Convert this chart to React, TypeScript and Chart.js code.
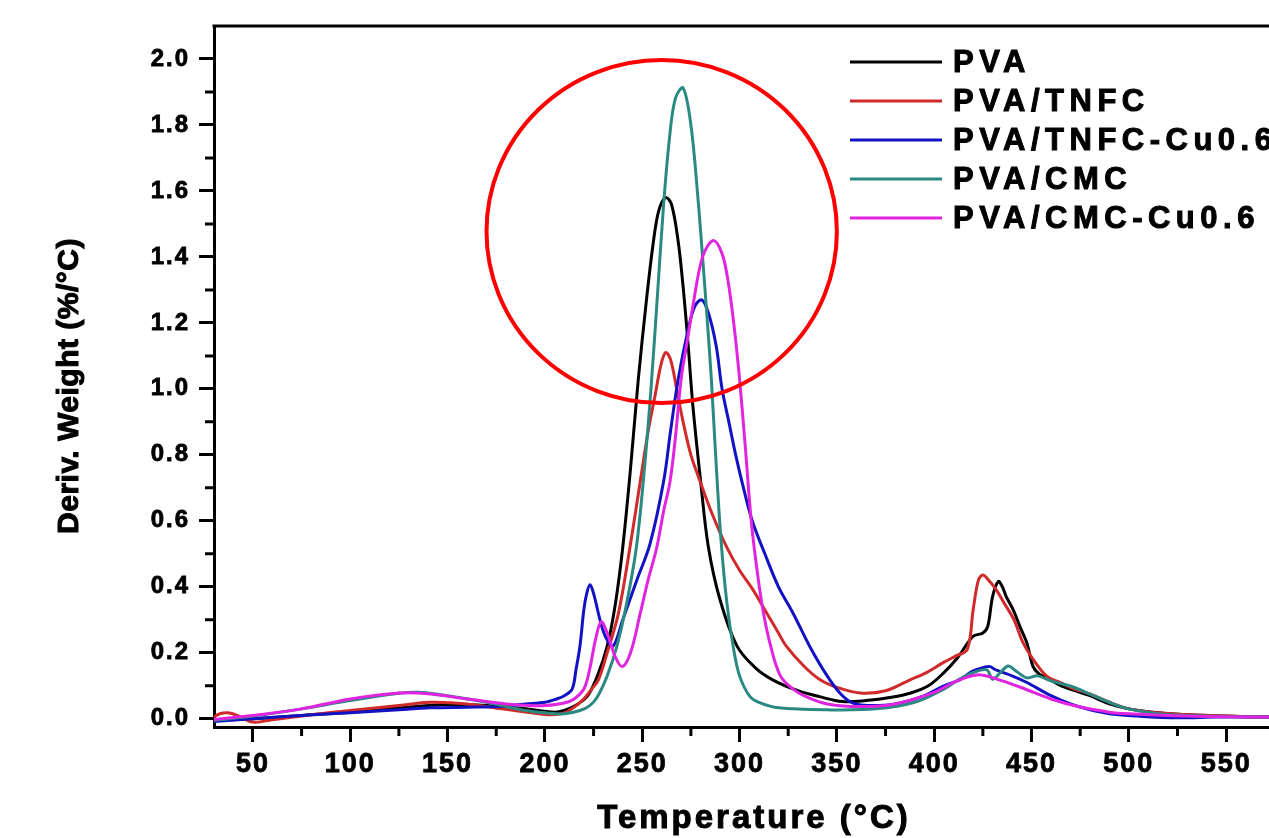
import React, { useEffect, useRef } from "react";
import { Chart, registerables } from "chart.js";

Chart.register(...registerables);

const SERIES_LABELS = ["PVA", "PVA/TNFC", "PVA/TNFC-Cu0.6", "PVA/CMC", "PVA/CMC-Cu0.6"];
const SERIES_COLORS = ["#000000", "#d02a2a", "#1212c4", "#2a8a82", "#e024e0"];

// PVA (black)
const PVA_T = [30, 40, 50, 75, 100, 125, 150, 170, 190, 205, 212, 217, 222, 227, 232, 236, 240, 244, 248, 252, 255.6, 258.5, 262, 265, 268.4, 271, 273.5, 276, 280, 284, 290, 298.7, 308, 317, 330, 341, 353, 365, 378, 388, 397, 405, 412, 420, 425, 427.5, 430, 432.9, 435, 437, 440.6, 444, 447.6, 450.8, 454, 458, 465, 471, 480, 490, 500, 515, 530, 550, 572];
const PVA_Y = [-0.005, -0.003, 0.0, 0.01, 0.02, 0.033, 0.043, 0.04, 0.03, 0.02, 0.03, 0.045, 0.07, 0.13, 0.22, 0.34, 0.52, 0.76, 1.03, 1.26, 1.44, 1.54, 1.58, 1.56, 1.45, 1.31, 1.14, 0.95, 0.72, 0.52, 0.36, 0.22, 0.155, 0.118, 0.085, 0.067, 0.052, 0.055, 0.065, 0.078, 0.1, 0.14, 0.185, 0.25, 0.26, 0.28, 0.37, 0.416, 0.4, 0.37, 0.33, 0.28, 0.23, 0.158, 0.135, 0.124, 0.1, 0.088, 0.07, 0.045, 0.03, 0.018, 0.012, 0.008, 0.005];

// PVA/TNFC (red)
const TNFC_T = [30, 33, 37, 42, 50, 60, 80, 100, 125, 141, 160, 178, 193, 203, 210, 215, 220, 224, 227.5, 232, 237.8, 243.7, 249, 253, 256.6, 259.5, 262, 264.5, 268, 271, 275, 279.7, 286, 293.4, 300, 307, 314, 320, 324, 333, 341.4, 350, 362, 375, 387.6, 396, 404.6, 411, 417, 420, 422.7, 425, 428, 432, 436, 441, 445.7, 452, 458, 464.7, 472, 480, 490, 500, 515, 530, 550, 572];
const TNFC_Y = [0.005, 0.015, 0.018, 0.01, -0.01, -0.003, 0.012, 0.025, 0.04, 0.05, 0.045, 0.03, 0.018, 0.012, 0.018, 0.035, 0.06, 0.09, 0.118, 0.2, 0.32, 0.52, 0.72, 0.87, 0.98, 1.07, 1.11, 1.09, 0.99, 0.9, 0.8, 0.72, 0.62, 0.52, 0.45, 0.39, 0.32, 0.26, 0.22, 0.16, 0.118, 0.095, 0.078, 0.085, 0.118, 0.14, 0.17, 0.19, 0.21, 0.33, 0.42, 0.436, 0.42, 0.39, 0.35, 0.3, 0.23, 0.17, 0.128, 0.11, 0.09, 0.075, 0.05, 0.03, 0.018, 0.012, 0.008, 0.005];

// PVA/TNFC-Cu0.6 (blue)
const TNFCCU_T = [30, 50, 75, 100, 125, 141, 160, 176, 190, 200, 206, 210, 214, 216, 218, 220, 221.5, 223.2, 225, 228.3, 231, 235, 240, 247.2, 254, 261, 264.5, 268.5, 273.6, 277, 280.6, 284, 288, 291, 294.5, 298, 302, 306.5, 313, 320, 327.5, 336, 345, 352, 358, 366, 380, 395, 405, 413, 420, 425, 428.7, 431, 433, 440, 447.6, 460, 474, 490, 505, 525, 545, 572];
const TNFCCU_Y = [-0.008, 0.0, 0.01, 0.018, 0.027, 0.033, 0.035, 0.037, 0.045, 0.05, 0.06, 0.07, 0.09, 0.15, 0.22, 0.33, 0.38, 0.406, 0.38, 0.3, 0.25, 0.22, 0.3, 0.42, 0.53, 0.72, 0.87, 1.03, 1.18, 1.25, 1.27, 1.23, 1.13, 1.0, 0.9, 0.8, 0.7, 0.6, 0.5, 0.4, 0.32, 0.22, 0.13, 0.075, 0.048, 0.04, 0.045, 0.07, 0.1, 0.118, 0.145, 0.155, 0.158, 0.15, 0.145, 0.13, 0.11, 0.07, 0.037, 0.015, 0.008, 0.003, 0.005, 0.005];

// PVA/CMC (teal)
const CMC_T = [30, 50, 75, 100, 125, 135, 150, 170, 190, 200, 210, 218, 223, 227, 232, 237, 242, 247, 251, 254.5, 258, 261, 264, 267, 271, 275, 278.6, 281, 283.5, 285.5, 288, 290.5, 293.5, 296.7, 300, 305.4, 310.6, 320, 345, 370, 390, 405, 413, 420, 427, 430, 434, 438, 442, 447.6, 453, 460, 471, 480, 490, 500, 515, 530, 550, 572];
const CMC_Y = [-0.005, 0.008, 0.03, 0.055, 0.077, 0.08, 0.07, 0.05, 0.025, 0.018, 0.015, 0.025, 0.04, 0.067, 0.13, 0.22, 0.35, 0.52, 0.75, 1.0, 1.3, 1.56, 1.76, 1.88, 1.912, 1.8, 1.58, 1.4, 1.2, 1.03, 0.77, 0.54, 0.35, 0.22, 0.13, 0.067, 0.048, 0.033, 0.027, 0.03, 0.05, 0.09, 0.12, 0.14, 0.148, 0.12, 0.14, 0.16, 0.145, 0.124, 0.13, 0.115, 0.097, 0.075, 0.05, 0.03, 0.015, 0.01, 0.007, 0.005];

// PVA/CMC-Cu0.6 (magenta)
const CMCCU_T = [30, 40, 50, 75, 100, 125, 140, 160, 180, 192, 200, 210, 215, 220, 223, 226, 228.9, 232, 236, 239.7, 244, 249, 253, 257.5, 261, 264.3, 267, 270, 273, 276, 281, 286.5, 291, 294, 297, 300, 303, 306, 309, 312, 316, 321, 327.5, 335, 345, 362, 380, 400, 410, 422, 435, 447.6, 460, 474, 490, 500, 530, 572];
const CMCCU_Y = [-0.002, 0.004, 0.01, 0.03, 0.06, 0.078, 0.076, 0.06, 0.045, 0.04, 0.04, 0.048, 0.06, 0.09, 0.15, 0.24, 0.294, 0.26, 0.19, 0.158, 0.2, 0.32, 0.42, 0.52, 0.63, 0.72, 0.85, 1.03, 1.14, 1.25, 1.4, 1.45, 1.41, 1.33, 1.2, 1.03, 0.82, 0.6, 0.45, 0.33, 0.22, 0.13, 0.09, 0.065, 0.045, 0.037, 0.045, 0.08, 0.11, 0.133, 0.115, 0.088, 0.06, 0.037, 0.02, 0.015, 0.008, 0.005];

const SERIES_T = [PVA_T, TNFC_T, TNFCCU_T, CMC_T, CMCCU_T];
const SERIES_Y = [PVA_Y, TNFC_Y, TNFCCU_Y, CMC_Y, CMCCU_Y];

const X_TICKS = [50, 100, 150, 200, 250, 300, 350, 400, 450, 500, 550];
const X_MINOR = [75, 125, 175, 225, 275, 325, 375, 425, 475, 525];
const Y_TICKS = [0, 0.2, 0.4, 0.6, 0.8, 1.0, 1.2, 1.4, 1.6, 1.8, 2.0];
const Y_MINOR = [0.1, 0.3, 0.5, 0.7, 0.9, 1.1, 1.3, 1.5, 1.7, 1.9];
const X_RANGE = [30, 572];
const Y_RANGE = [-0.025, 2.1];

const X_TITLE = "Temperature (°C)";
const Y_TITLE = "Deriv. Weight (%/°C)";

// highlight circle, in data units (centre temperature, centre value, half-width in °C, half-height in value)
const HIGHLIGHT = [260, 1.477, 90, 0.52];

const FONT = "'Liberation Sans', Arial, Helvetica, sans-serif";

const decorPlugin = {
  id: "decor",
  beforeDraw(chart: any) {
    chart.ctx.letterSpacing = "2px";
  },
  afterDatasetsDraw(chart: any) {
    const { ctx, scales } = chart;
    const xs = scales.x;
    const ys = scales.y;
    const cx = xs.getPixelForValue(HIGHLIGHT[0]);
    const cy = ys.getPixelForValue(HIGHLIGHT[1]);
    const rx = Math.abs(xs.getPixelForValue(HIGHLIGHT[0] + HIGHLIGHT[2]) - cx);
    const ry = Math.abs(ys.getPixelForValue(HIGHLIGHT[1] + HIGHLIGHT[3]) - cy);
    ctx.save();
    ctx.strokeStyle = "#ff0000";
    ctx.lineWidth = 4;
    ctx.beginPath();
    ctx.ellipse(cx, cy, rx, ry, 0, 0, Math.PI * 2);
    ctx.stroke();
    ctx.restore();
  },
  afterDraw(chart: any) {
    const { ctx, chartArea: a, scales } = chart;
    const xs = scales.x;
    const ys = scales.y;
    ctx.save();
    ctx.letterSpacing = "0px";
    ctx.strokeStyle = "#000";
    ctx.lineWidth = 3;
    // top frame line
    ctx.beginPath();
    ctx.moveTo(a.left - 1.5, a.top);
    ctx.lineTo(a.right, a.top);
    ctx.stroke();
    // minor ticks
    ctx.beginPath();
    Y_MINOR.forEach((v) => {
      const py = ys.getPixelForValue(v);
      ctx.moveTo(a.left - 9, py);
      ctx.lineTo(a.left, py);
    });
    X_MINOR.forEach((v) => {
      const px = xs.getPixelForValue(v);
      ctx.moveTo(px, a.bottom);
      ctx.lineTo(px, a.bottom + 9);
    });
    ctx.stroke();

    const heavyText = (t: string, x: number, y: number) => {
      ctx.fillText(t, x, y);
      ctx.strokeText(t, x, y);
    };

    // axis titles
    ctx.fillStyle = "#000";
    ctx.strokeStyle = "#000";
    ctx.lineWidth = 1;
    ctx.font = `bold 33px ${FONT}`;
    ctx.letterSpacing = "3px";
    ctx.textAlign = "center";
    ctx.textBaseline = "middle";
    heavyText(X_TITLE, a.left + 540, a.bottom + 92);

    ctx.save();
    ctx.letterSpacing = "0.5px";
    ctx.font = `bold 30px ${FONT}`;
    ctx.translate(a.left - 144, a.top + 360);
    ctx.rotate(-Math.PI / 2);
    heavyText(Y_TITLE, 0, 0);
    ctx.restore();

    // legend
    ctx.font = `bold 31px ${FONT}`;
    ctx.letterSpacing = "5.5px";
    ctx.textAlign = "left";
    chart.data.datasets.forEach((ds: any, i: number) => {
      const ly = a.top + 36 + i * 39;
      ctx.strokeStyle = ds.borderColor;
      ctx.lineWidth = 3;
      ctx.beginPath();
      ctx.moveTo(a.left + 636, ly);
      ctx.lineTo(a.left + 728, ly);
      ctx.stroke();
      ctx.fillStyle = "#000";
      ctx.strokeStyle = "#000";
      ctx.lineWidth = 1;
      heavyText(ds.label, a.left + 739, ly + 1);
    });
    ctx.restore();
  },
};

export default function App() {
  const canvasRef = useRef<HTMLCanvasElement | null>(null);

  useEffect(() => {
    document.body.style.margin = "0";
    document.body.style.overflow = "hidden";
    const canvas = canvasRef.current;
    if (!canvas) return;

    const datasets = SERIES_LABELS.map((label, i) => ({
      label,
      data: SERIES_T[i].map((t, j) => ({ x: t, y: SERIES_Y[i][j] })),
      borderColor: SERIES_COLORS[i],
      backgroundColor: SERIES_COLORS[i],
      borderWidth: 3,
      pointRadius: 0,
      pointHoverRadius: 0,
      fill: false,
      tension: 0.35,
      borderJoinStyle: "round" as const,
      borderCapStyle: "round" as const,
      order: SERIES_LABELS.length - 1 - i,
    }));

    const tickCommon = {
      display: true,
      drawOnChartArea: false,
      drawTicks: true,
      tickLength: 15,
      tickWidth: 3,
      lineWidth: 3,
      tickColor: "#000",
      color: "#000",
    };

    const chart = new Chart(canvas, {
      type: "line",
      data: { datasets },
      plugins: [decorPlugin],
      options: {
        animation: false,
        responsive: false,
        devicePixelRatio: 1,
        layout: { padding: { top: 26, left: 0, right: 0, bottom: 0 } },
        plugins: {
          legend: { display: false },
          tooltip: { enabled: false },
          title: { display: false },
        },
        scales: {
          x: {
            type: "linear",
            min: X_RANGE[0],
            max: X_RANGE[1],
            afterBuildTicks: (s: any) => {
              s.ticks = X_TICKS.map((v) => ({ value: v }));
            },
            afterFit: (s: any) => {
              s.height = 111;
            },
            ticks: {
              autoSkip: false,
              maxRotation: 0,
              padding: 6,
              color: "#000",
              textStrokeColor: "#000",
              textStrokeWidth: 0.8,
              font: { family: FONT, size: 27, weight: "bold" },
              callback: (v: any) => String(v),
            },
            grid: tickCommon,
            border: { display: true, color: "#000", width: 3 },
          },
          y: {
            type: "linear",
            min: Y_RANGE[0],
            max: Y_RANGE[1],
            afterBuildTicks: (s: any) => {
              s.ticks = Y_TICKS.map((v) => ({ value: v }));
            },
            afterFit: (s: any) => {
              s.width = 214;
            },
            ticks: {
              autoSkip: false,
              padding: 9,
              color: "#000",
              textStrokeColor: "#000",
              textStrokeWidth: 0.8,
              font: { family: FONT, size: 24, weight: "bold" },
              callback: (v: any) => Number(v).toFixed(1),
            },
            grid: tickCommon,
            border: { display: true, color: "#000", width: 3 },
          },
        },
      },
    });

    return () => {
      chart.destroy();
    };
  }, []);

  return (
    <div style={{ width: 1269, height: 838, overflow: "hidden", background: "#fff" }}>
      <canvas ref={canvasRef} width={1269} height={838} style={{ display: "block" }} />
    </div>
  );
}
